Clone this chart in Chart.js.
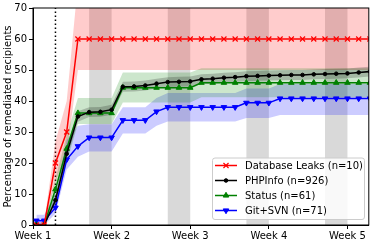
<!DOCTYPE html>
<html>
<head>
<meta charset="utf-8">
<script src="https://cdn.jsdelivr.net/npm/chart.js@4.4.1/dist/chart.umd.min.js"></script>
<style>
  html, body { margin: 0; padding: 0; background: #fff; }
  #wrap { width: 374px; height: 242px; }
</style>
</head>
<body>
<div id="wrap"><canvas id="remediationChart" width="374" height="242"></canvas></div>
<script>
// days since first notification
const days = [0.3, 1, 2, 3, 4, 5, 6, 7, 8, 9, 10, 11, 12, 13, 14, 15, 16, 17, 18, 19, 20, 21, 22, 23, 24, 25, 26, 27, 28, 29, 30];

const dbLeaks = [0, 0, 20, 30, 60, 60, 60, 60, 60, 60, 60, 60, 60, 60, 60, 60, 60, 60, 60, 60, 60, 60, 60, 60, 60, 60, 60, 60, 60, 60, 60];
const dbLeaksLow = [0, 0, 14, 23, 50, 50, 50, 50, 50, 50, 50, 50, 50, 50, 50, 50, 50, 50, 50, 50, 50, 50, 50, 50, 50, 50, 50, 50, 50, 50, 50];
const dbLeaksHigh = [1, 1, 27, 40, 78, 78, 78, 78, 78, 78, 78, 78, 78, 78, 78, 78, 78, 78, 78, 78, 78, 78, 78, 78, 78, 78, 78, 78, 78, 78, 78];

const phpInfo = [0, 0, 8, 23, 35, 36.4, 36.5, 37.2, 44.6, 44.7, 45.0, 45.6, 46.1, 46.2, 46.3, 47.0, 47.2, 47.5, 47.7, 48.0, 48.1, 48.2, 48.3, 48.4, 48.4, 48.6, 48.7, 48.8, 48.9, 49.2, 49.5];
const phpInfoLow = [0, 0, 6.5, 21.2, 33.3, 34.8, 34.9, 35.6, 43.0, 43.1, 43.4, 44.0, 44.5, 44.6, 44.7, 45.4, 45.6, 45.9, 46.1, 46.4, 46.5, 46.6, 46.7, 46.8, 46.8, 47.0, 47.1, 47.2, 47.3, 47.6, 47.9];
const phpInfoHigh = [0.5, 0.5, 9.5, 24.8, 36.7, 38.0, 38.1, 38.8, 46.2, 46.3, 46.6, 47.2, 47.7, 47.8, 47.9, 48.6, 48.8, 49.1, 49.3, 49.6, 49.7, 49.8, 49.9, 50.0, 50.0, 50.2, 50.3, 50.4, 50.5, 50.8, 51.1];

const status = [0, 0, 11.5, 24.6, 36.1, 36.1, 36.1, 36.1, 44.3, 44.3, 44.3, 44.3, 44.3, 44.3, 44.3, 45.9, 45.9, 45.9, 45.9, 45.9, 45.9, 45.9, 45.9, 45.9, 45.9, 45.9, 45.9, 45.9, 45.9, 45.9, 45.9];
const statusLow = [0, 0, 8, 20, 32.6, 32.6, 32.6, 32.6, 39.5, 39.5, 39.5, 39.5, 39.5, 39.5, 39.5, 41.2, 41.2, 41.2, 41.2, 41.2, 41.2, 41.2, 41.2, 41.2, 41.2, 41.2, 41.2, 41.2, 41.2, 41.2, 41.2];
const statusHigh = [0.5, 0.5, 15, 29, 41, 41, 41, 41, 49.2, 49.2, 49.2, 49.2, 49.2, 49.2, 49.2, 50.6, 50.6, 50.6, 50.6, 50.6, 50.6, 50.6, 50.6, 50.6, 50.6, 50.6, 50.6, 50.6, 50.6, 50.6, 50.6];

const gitSvn = [1.4, 1.4, 5.6, 21.1, 25.4, 28.2, 28.2, 28.2, 33.8, 33.8, 33.8, 36.6, 38.0, 38.0, 38.0, 38.0, 38.0, 38.0, 38.0, 39.4, 39.4, 39.4, 40.8, 40.8, 40.8, 40.8, 40.8, 40.8, 40.8, 40.8, 40.8];
const gitSvnLow = [0, 0, 3.7, 17.9, 22, 23.7, 23.7, 23.7, 29.5, 29.5, 29.5, 32, 33.4, 33.4, 33.4, 33.4, 33.4, 33.4, 33.4, 34.5, 34.5, 34.5, 35.5, 35.5, 35.5, 35.5, 35.5, 35.5, 35.5, 35.5, 35.5];
const gitSvnHigh = [3.3, 3.3, 10, 27.4, 32, 32.5, 32.5, 32.5, 38, 38, 38, 41, 42.6, 42.6, 42.6, 42.6, 42.6, 42.6, 42.6, 44, 44, 44, 45.5, 45.5, 45.5, 45.5, 45.5, 45.5, 45.5, 45.5, 45.5];

const weekTicks = [0, 7, 14, 21, 28];
const weekLabels = ["Week 1", "Week 2", "Week 3", "Week 4", "Week 5"];
const weekendStarts = [5, 12, 19, 26];
const notifyDay = 2;

const FONT = "DejaVu Sans";

function pts(values) {
    return days.map((d, i) => ({ x: d, y: values[i] }));
}

function seriesLine(label, values, color, style, radius, rotation) {
    return {
        label: label,
        data: pts(values),
        borderColor: color,
        backgroundColor: color,
        borderWidth: 1.5,
        pointStyle: style,
        pointRadius: radius,
        pointRotation: rotation || 0,
        pointBorderWidth: style === "crossRot" ? 1.2 : 1,
        pointBorderColor: color,
        pointBackgroundColor: color,
        tension: 0,
        fill: false,
        clip: 0
    };
}

function bandPair(low, high, fillColor) {
    return [
        { data: pts(low), borderWidth: 0, pointRadius: 0, fill: false },
        { data: pts(high), borderWidth: 0, pointRadius: 0, fill: "-1", backgroundColor: fillColor }
    ];
}

const mainSets = [
    seriesLine("Database Leaks (n=10)", dbLeaks, "#ff0000", "crossRot", 3.6),
    seriesLine("PHPInfo (n=926)", phpInfo, "#000000", "circle", 1.8),
    seriesLine("Status (n=61)", status, "#008000", "triangle", 3.2),
    seriesLine("Git+SVN (n=71)", gitSvn, "#0000ff", "triangle", 3.2, 180)
];

const bandSets = [].concat(
    bandPair(phpInfoLow, phpInfoHigh, "rgba(0,0,0,0.2)"),
    bandPair(statusLow, statusHigh, "rgba(0,128,0,0.2)"),
    bandPair(gitSvnLow, gitSvnHigh, "rgba(0,0,255,0.2)"),
    bandPair(dbLeaksLow, dbLeaksHigh, "rgba(255,0,0,0.2)")
);

// weekend shading + notification line under the data, frame + legend on top
const backdrop = {
    id: "backdrop",
    beforeDatasetsDraw(chart) {
        const ctx = chart.ctx;
        const area = chart.chartArea;
        const x = chart.scales.x;
        ctx.save();
        ctx.fillStyle = "rgba(128,128,128,0.3)";
        weekendStarts.forEach(function (s) {
            const x0 = x.getPixelForValue(s);
            const x1 = x.getPixelForValue(s + 2);
            ctx.fillRect(x0, area.top, x1 - x0, area.bottom - area.top);
        });
        ctx.strokeStyle = "#000";
        ctx.lineWidth = 1.5;
        ctx.setLineDash([1.5, 2.5]);
        const xn = x.getPixelForValue(notifyDay);
        ctx.beginPath();
        ctx.moveTo(xn, area.bottom);
        ctx.lineTo(xn, area.top);
        ctx.stroke();
        ctx.restore();
    },
    afterDraw(chart) {
        const ctx = chart.ctx;
        const area = chart.chartArea;
        ctx.save();
        ctx.strokeStyle = "#000";
        ctx.lineWidth = 1;
        ctx.strokeRect(area.left, area.top, area.right - area.left, area.bottom - area.top);

        // legend box, lower right
        ctx.font = "10px '" + FONT + "'";
        const rowH = 15;
        const boxLeft = 212;
        const boxTop = 157.5;
        const boxW = 152;
        const boxH = 61.5;
        ctx.fillStyle = "rgba(255,255,255,0.85)";
        ctx.strokeStyle = "#cccccc";
        ctx.lineWidth = 1;
        ctx.beginPath();
        ctx.roundRect(boxLeft + 0.5, boxTop + 0.5, boxW, boxH, 2.5);
        ctx.fill();
        ctx.stroke();
        mainSets.forEach(function (ds, i) {
            const cy = boxTop + 8 + i * rowH;
            const lx0 = boxLeft + 3;
            const lx1 = boxLeft + 25;
            ctx.strokeStyle = ds.borderColor;
            ctx.lineWidth = 1.5;
            ctx.beginPath();
            ctx.moveTo(lx0, cy);
            ctx.lineTo(lx1, cy);
            ctx.stroke();
            ctx.fillStyle = ds.borderColor;
            ctx.lineWidth = ds.pointBorderWidth;
            Chart.helpers.drawPoint(ctx, {
                pointStyle: ds.pointStyle,
                radius: ds.pointRadius,
                rotation: ds.pointRotation,
                borderWidth: ds.pointBorderWidth
            }, (lx0 + lx1) / 2, cy);
            ctx.fillStyle = "#000";
            ctx.textBaseline = "middle";
            ctx.textAlign = "left";
            ctx.fillText(ds.label, boxLeft + 33, cy + 0.5, 118);
        });
        ctx.restore();
    }
};

const ctx = document.getElementById("remediationChart").getContext("2d");
new Chart(ctx, {
    type: "line",
    data: { datasets: mainSets.concat(bandSets) },
    plugins: [backdrop],
    options: {
        responsive: false,
        animation: false,
        devicePixelRatio: 1,
        layout: { padding: { left: 0, top: 4, right: 1, bottom: 0 } },
        plugins: {
            legend: { display: false },
            tooltip: { enabled: false },
            filler: { propagate: false }
        },
        scales: {
            x: {
                type: "linear",
                min: 0,
                max: 29.9,
                afterFit: function (scale) { scale.height = 17; },
                afterBuildTicks: function (scale) {
                    scale.ticks = weekTicks.map(v => ({ value: v }));
                },
                ticks: {
                    callback: function (v) { return weekLabels[weekTicks.indexOf(v)]; },
                    color: "#000",
                    font: { family: FONT, size: 10 },
                    padding: 1,
                    maxRotation: 0,
                    autoSkip: false
                },
                grid: { drawOnChartArea: false, drawTicks: true, tickLength: 4, color: "#000" },
                border: { display: true, color: "#000" }
            },
            y: {
                min: 0,
                max: 70,
                afterFit: function (scale) { scale.width = 33; },
                ticks: {
                    stepSize: 10,
                    color: "#000",
                    font: { family: FONT, size: 10 },
                    padding: 2
                },
                grid: { drawOnChartArea: false, drawTicks: true, tickLength: 4, color: "#000" },
                border: { display: true, color: "#000" },
                title: {
                    display: true,
                    text: "Percentage of remediated recipients",
                    color: "#000",
                    font: { family: FONT, size: 10 },
                    padding: { top: 2, bottom: 0 }
                }
            }
        }
    }
});
</script>
</body>
</html>
